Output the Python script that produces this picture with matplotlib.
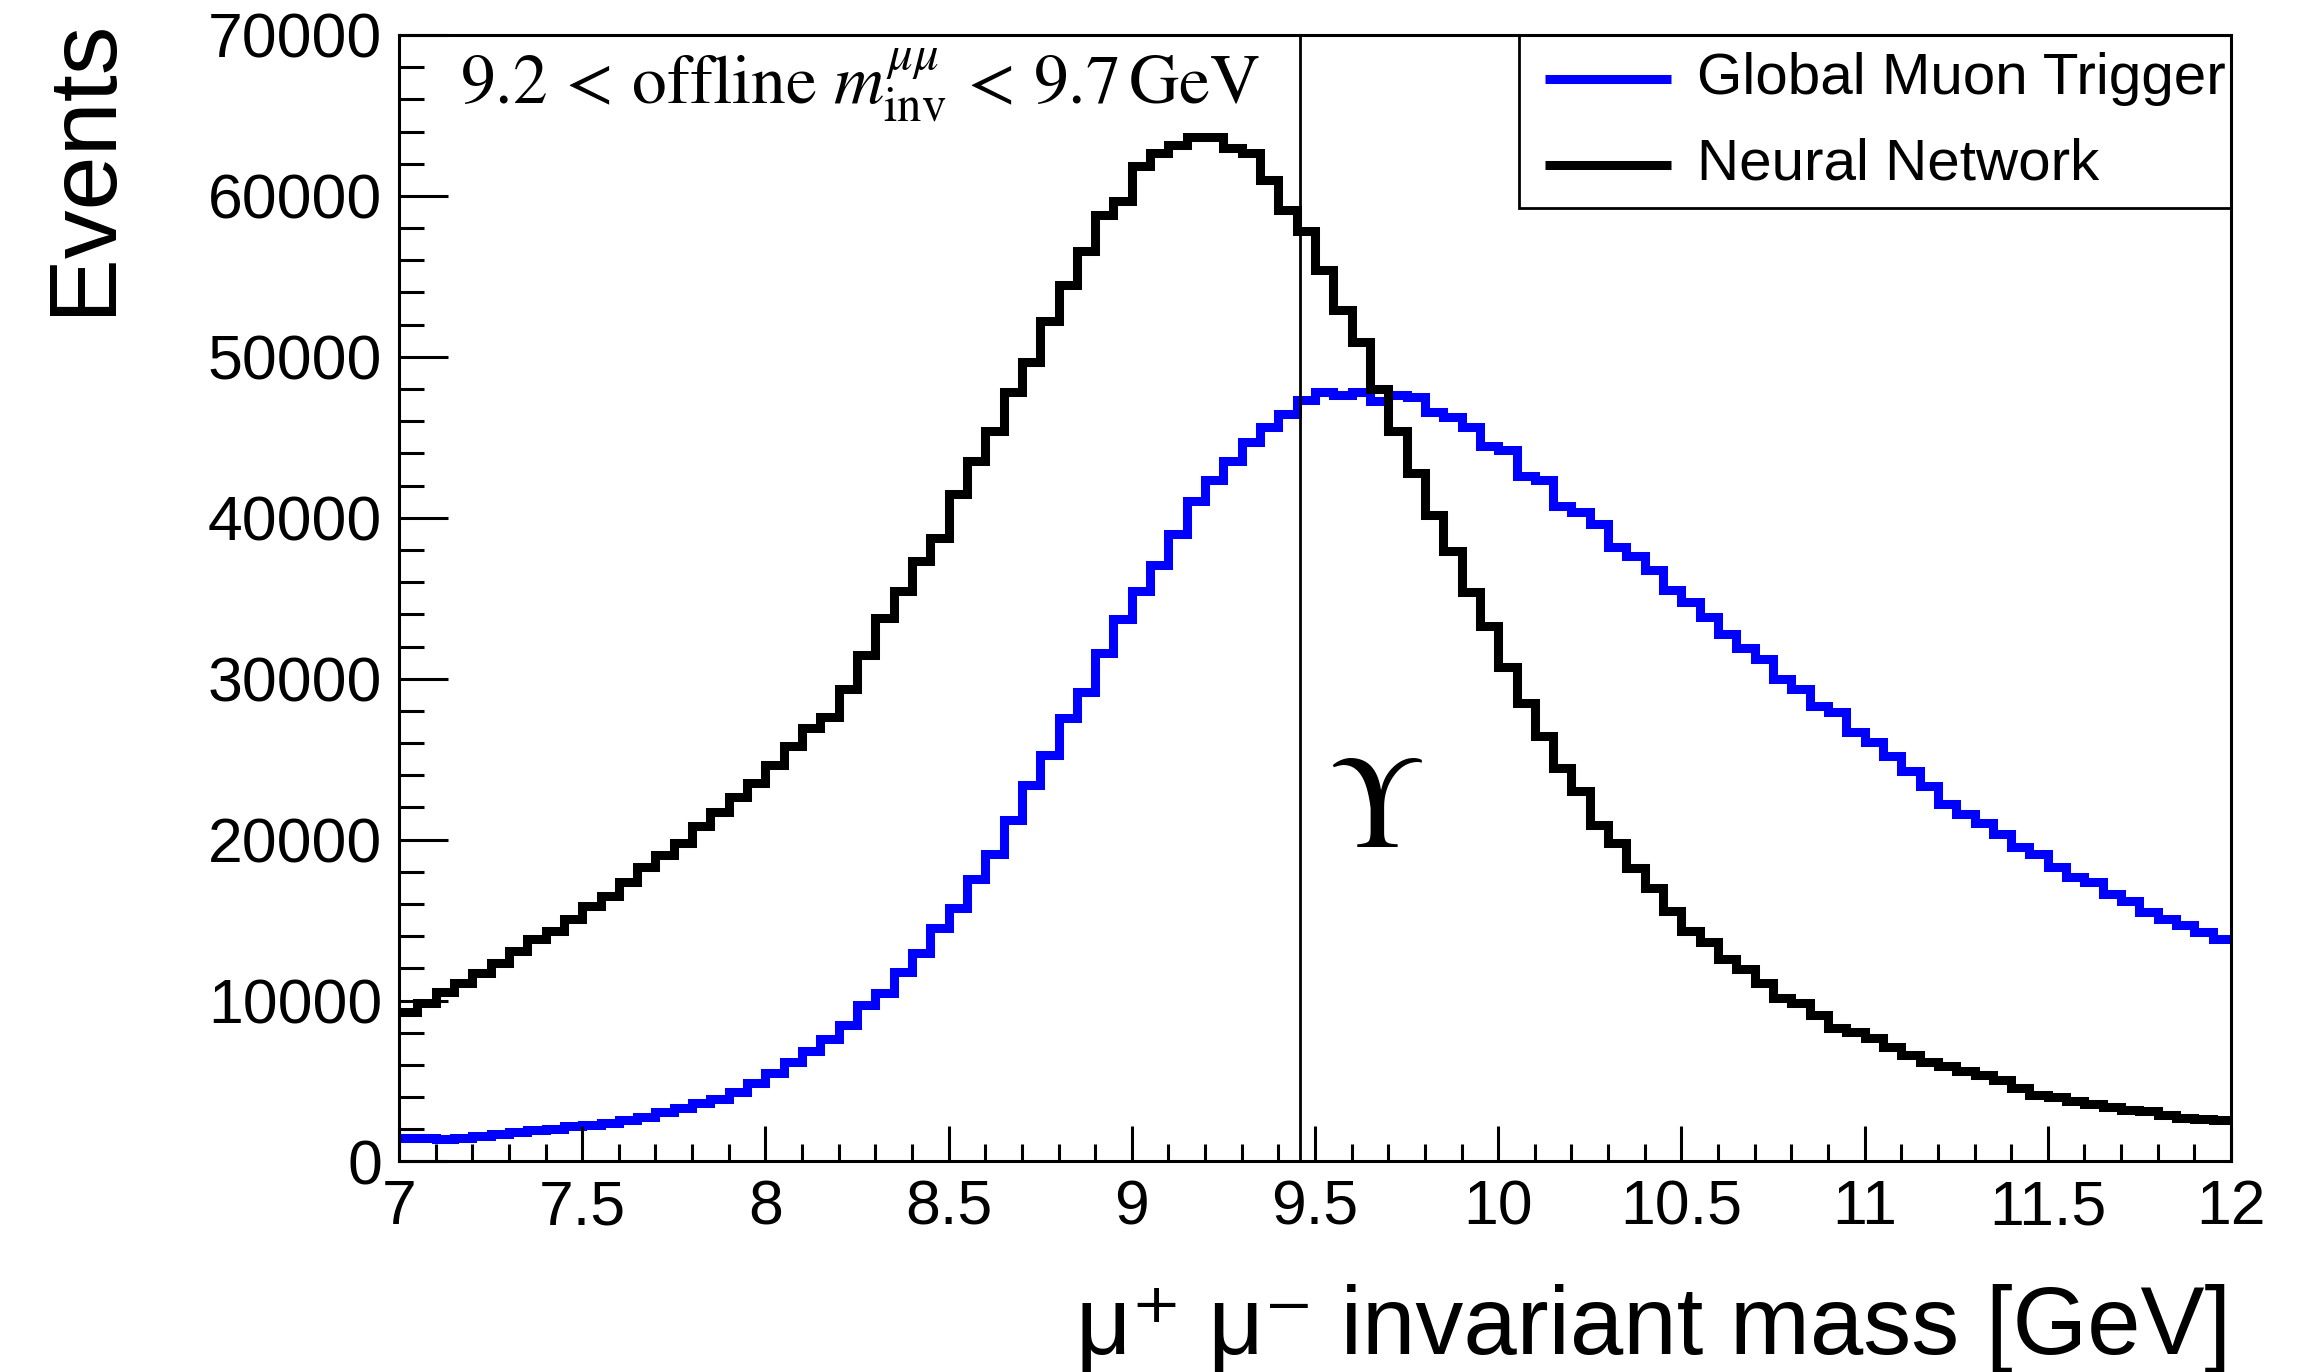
import numpy as np
import matplotlib
matplotlib.use("Agg")
import matplotlib.pyplot as plt
from matplotlib.patches import Rectangle
from matplotlib.lines import Line2D

plt.rcParams['font.family'] = ['Liberation Sans', 'DejaVu Sans']
plt.rcParams['mathtext.fontset'] = 'stix'

# binning: 100 bins between 7 and 12 GeV
x_min, x_max, n_bins = 7.0, 12.0, 100

# Global Muon Trigger (blue), events per bin
gmt_counts = [
    1490, 1450, 1400, 1450, 1590, 1710, 1820, 1960, 2050, 2190,
    2270, 2420, 2580, 2790, 3100, 3350, 3660, 3890, 4340, 4860,
    5480, 6170, 6870, 7600, 8490, 9730, 10500, 11760, 12980, 14500,
    15780, 17540, 19090, 21250, 23380, 25280, 27550, 29200, 31600, 33740,
    35420, 37090, 39000, 41020, 42330, 43520, 44710, 45660, 46420, 47340,
    47820, 47620, 47820, 47270, 47650, 47500, 46570, 46260, 45660, 44460,
    44210, 42600, 42360, 40750, 40370, 39620, 38160, 37600, 36770, 35500,
    34780, 33840, 32760, 31880, 31240, 29965, 29385, 28290, 27910, 26670,
    26050, 25220, 24250, 23360, 22220, 21600, 21040, 20370, 19550, 19110,
    18320, 17680, 17370, 16620, 16210, 15500, 15090, 14680, 14260, 13810,
]

# Neural Network (black), events per bin
nn_counts = [
    9270, 9870, 10560, 11120, 11740, 12360, 13110, 13830, 14330, 15050,
    15880, 16500, 17350, 18320, 19050, 19770, 20850, 21740, 22630, 23500,
    24640, 25820, 26960, 27640, 29350, 31500, 33800, 35450, 37300, 38760,
    41500, 43520, 45420, 47800, 49700, 52200, 54460, 56600, 58790, 59690,
    61830, 62660, 63180, 63660, 63660, 62970, 62660, 61000, 59140, 57790,
    55410, 52910, 50900, 48000, 45380, 42780, 40170, 37910, 35390, 33250,
    30720, 28510, 26440, 24440, 23000, 20880, 19790, 18220, 16980, 15590,
    14350, 13640, 12605, 11960, 11090, 10160, 9830, 9125, 8300, 8050,
    7675, 7120, 6600, 6185, 5915, 5605, 5355, 5045, 4550, 4155,
    4010, 3780, 3595, 3370, 3220, 3160, 2910, 2705, 2620, 2550,
]

upsilon_mass = 9.46
x_ticks = [7, 7.5, 8, 8.5, 9, 9.5, 10, 10.5, 11, 11.5, 12]
x_tick_labels = ["7", "7.5", "8", "8.5", "9", "9.5", "10", "10.5", "11", "11.5", "12"]
y_ticks = [0, 10000, 20000, 30000, 40000, 50000, 60000, 70000]
y_tick_labels = ["0", "10000", "20000", "30000", "40000", "50000", "60000", "70000"]
legend_labels = ["Global Muon Trigger", "Neural Network"]
colors = ["#0000ff", "#000000"]

edges = np.linspace(x_min, x_max, n_bins + 1)

fig = plt.figure(figsize=(23.2, 13.72), dpi=100)
ax = fig.add_axes([0.17198, 0.15343, 0.78966, 0.82106])

# histograms
for counts, col in zip([gmt_counts, nn_counts], colors):
    sp = ax.stairs(counts, edges, baseline=None, color=col, linewidth=6.5)
    sp.set_joinstyle('miter')

# Upsilon(1S) mass line
ax.axvline(upsilon_mass, color='black', linewidth=2.0)

ax.set_xlim(x_min, x_max)
ax.set_ylim(0, 70000)

ax.set_xticks(x_ticks)
ax.set_xticklabels(x_tick_labels)
ax.set_xticks(np.arange(7.0, 12.01, 0.1), minor=True)
ax.set_yticks(y_ticks)
ax.set_yticklabels(y_tick_labels)
ax.set_yticks(np.arange(0, 70001, 2000), minor=True)

ax.tick_params(axis='x', which='major', direction='in', length=25, width=2.2,
               labelsize=45, pad=12)
ax.tick_params(axis='x', which='minor', direction='in', length=12.5, width=2.2)
ax.tick_params(axis='y', which='major', direction='in', length=35, width=2.2,
               labelsize=45, pad=12)
ax.tick_params(axis='y', which='minor', direction='in', length=18, width=2.2)
for s in ax.spines.values():
    s.set_linewidth(2.2)

# axis titles (ROOT style, aligned to the ends)
fig.text(0.9616, 0.0131, "\u03bc\u207a \u03bc\u207b invariant mass [GeV]",
         ha='right', va='baseline', fontsize=69)
fig.text(84 / 2320, 1 - 18 / 1372, "Events", rotation=90,
         ha='center', va='top', fontsize=70)

# selection text
fig.text(460 / 2320, 1 - 104 / 1372,
         r'$9.2\,<\,\mathrm{offline}\ m^{\mu\mu}_{\mathrm{inv}}\,<\,9.7\,\mathrm{GeV}$',
         ha='left', va='baseline', fontsize=50)

# Upsilon label
ax.text(9.664, 19540, r'$\Upsilon$', ha='center', va='baseline', fontsize=95)

# legend box drawn by hand
lx0, lx1 = 1519 / 2320, 0.96164
ly0, ly1 = 1 - 208 / 1372, 1 - 35 / 1372
fig.patches.append(Rectangle((lx0, ly0), lx1 - lx0, ly1 - ly0,
                             transform=fig.transFigure, fill=False,
                             edgecolor='black', linewidth=2.0))
for lab, col, ypix in zip(legend_labels, colors, [78.5, 165]):
    yy = 1 - ypix / 1372
    fig.lines.append(Line2D([1545 / 2320, 1671 / 2320], [yy, yy],
                            transform=fig.transFigure, color=col, linewidth=6.5,
                            solid_capstyle='butt'))
    fig.text(1697 / 2320, yy, lab, ha='left', va='center', fontsize=42)

fig.savefig("out.png", dpi=100)
